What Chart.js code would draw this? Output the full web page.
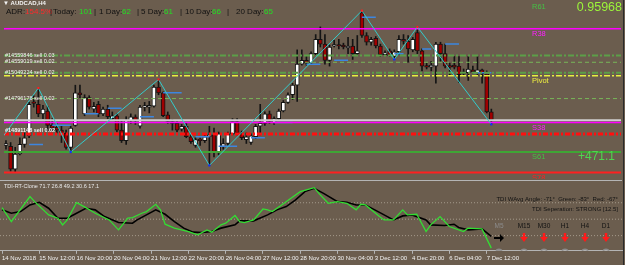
<!DOCTYPE html>
<html lang="en">
<head>
<meta charset="UTF-8">
<title>AUDCAD,H4</title>
<script src="https://cdn.jsdelivr.net/npm/chart.js"></script>
<style>
  body { margin: 0; background: #6b5d4e; width: 625px; height: 265px; overflow: hidden; position: relative; }
  canvas { position: absolute; left: 0; }
  #main { top: 0; }
  #sub { top: 179px; }
</style>
</head>
<body>
<canvas id="main" width="625" height="179"></canvas>
<canvas id="sub" width="625" height="86"></canvas>
<script>
// H4 candles, one entry per bar (bar 0 = 14 Nov 2018 00:00)
const openP = [
  0.9544,0.9542,0.9494,0.9526,0.9546,0.9564,0.9634,0.9630,0.9610,0.9616,
  0.9586,0.9582,0.9576,0.9570,0.9540,0.9586,0.9654,0.9610,0.9644,0.9620,
  0.9630,0.9610,0.9620,0.9600,0.9606,0.9576,0.9554,0.9596,0.9604,0.9584,
  0.9624,0.9624,0.9626,0.9666,0.9654,0.9608,0.9594,0.9590,0.9578,0.9584,
  0.9562,0.9544,0.9556,0.9554,0.9562,0.9566,0.9530,0.9542,0.9548,0.9568,
  0.9594,0.9570,0.9556,0.9550,0.9562,0.9584,0.9590,0.9610,0.9592,0.9600,
  0.9616,0.9634,0.9650,0.9670,0.9714,0.9722,0.9716,0.9736,0.9766,0.9756,
  0.9722,0.9752,0.9754,0.9754,0.9748,0.9752,0.9736,0.9822,0.9774,0.9760,
  0.9768,0.9752,0.9734,0.9742,0.9730,0.9740,0.9766,0.9762,0.9744,0.9780,
  0.9742,0.9710,0.9708,0.9710,0.9756,0.9736,0.9710,0.9712,0.9710,0.9694,
  0.9696,0.9702,0.9696,0.9702,0.9694,0.9614
];
const highP = [
  0.9554,0.9550,0.9540,0.9560,0.9570,0.9634,0.9648,0.9664,0.9628,0.9626,
  0.9600,0.9590,0.9584,0.9576,0.9584,0.9670,0.9670,0.9650,0.9648,0.9634,
  0.9636,0.9624,0.9628,0.9614,0.9610,0.9596,0.9604,0.9610,0.9608,0.9628,
  0.9634,0.9636,0.9670,0.9682,0.9656,0.9614,0.9598,0.9594,0.9588,0.9590,
  0.9566,0.9560,0.9560,0.9566,0.9584,0.9580,0.9572,0.9558,0.9572,0.9600,
  0.9600,0.9574,0.9570,0.9568,0.9588,0.9630,0.9614,0.9616,0.9604,0.9620,
  0.9638,0.9654,0.9674,0.9744,0.9744,0.9730,0.9740,0.9776,0.9792,0.9776,
  0.9754,0.9764,0.9766,0.9758,0.9770,0.9766,0.9774,0.9826,0.9780,0.9770,
  0.9772,0.9756,0.9742,0.9746,0.9744,0.9774,0.9776,0.9774,0.9770,0.9792,
  0.9746,0.9716,0.9720,0.9760,0.9760,0.9756,0.9716,0.9730,0.9730,0.9704,
  0.9730,0.9710,0.9730,0.9704,0.9700,0.9620
];
const lowP = [
  0.9536,0.9490,0.9488,0.9524,0.9540,0.9560,0.9624,0.9604,0.9600,0.9574,
  0.9574,0.9570,0.9550,0.9536,0.9530,0.9584,0.9644,0.9606,0.9620,0.9614,
  0.9604,0.9606,0.9600,0.9596,0.9572,0.9550,0.9546,0.9590,0.9588,0.9580,
  0.9616,0.9612,0.9624,0.9650,0.9604,0.9590,0.9576,0.9572,0.9574,0.9560,
  0.9548,0.9540,0.9544,0.9550,0.9502,0.9520,0.9524,0.9536,0.9544,0.9566,
  0.9566,0.9556,0.9548,0.9546,0.9558,0.9566,0.9586,0.9590,0.9588,0.9596,
  0.9614,0.9632,0.9640,0.9636,0.9712,0.9712,0.9714,0.9734,0.9750,0.9714,
  0.9710,0.9750,0.9746,0.9746,0.9736,0.9724,0.9734,0.9770,0.9754,0.9754,
  0.9748,0.9730,0.9732,0.9730,0.9724,0.9734,0.9756,0.9718,0.9740,0.9736,
  0.9700,0.9704,0.9700,0.9674,0.9720,0.9706,0.9690,0.9704,0.9676,0.9690,
  0.9680,0.9694,0.9690,0.9674,0.9612,0.9588
];
const closeP = [
  0.9548,0.9494,0.9526,0.9546,0.9560,0.9630,0.9632,0.9610,0.9620,0.9586,
  0.9580,0.9576,0.9570,0.9540,0.9580,0.9654,0.9650,0.9644,0.9624,0.9626,
  0.9610,0.9620,0.9604,0.9606,0.9576,0.9554,0.9596,0.9604,0.9596,0.9624,
  0.9626,0.9628,0.9666,0.9654,0.9606,0.9594,0.9590,0.9576,0.9584,0.9562,
  0.9552,0.9556,0.9554,0.9562,0.9566,0.9530,0.9568,0.9548,0.9568,0.9594,
  0.9570,0.9560,0.9562,0.9564,0.9584,0.9590,0.9610,0.9594,0.9600,0.9616,
  0.9634,0.9650,0.9670,0.9714,0.9722,0.9716,0.9736,0.9766,0.9756,0.9722,
  0.9750,0.9754,0.9752,0.9750,0.9752,0.9736,0.9742,0.9774,0.9760,0.9766,
  0.9752,0.9734,0.9738,0.9732,0.9740,0.9766,0.9762,0.9746,0.9766,0.9742,
  0.9710,0.9708,0.9712,0.9756,0.9736,0.9710,0.9708,0.9708,0.9692,0.9698,
  0.9704,0.9698,0.9702,0.9694,0.9614,0.9598
];

// zigzag pivots
const zzBar = [-4, 7, 14, 33, 44, 77, 84, 89, 105];
const zzPrice = [0.9518, 0.9664, 0.9530, 0.9682, 0.9502, 0.9826, 0.9724, 0.9792, 0.9588];

// short blue S/R segments: start bar, end bar, price
const segStart = [5, 10, 17, 22, 29, 34, 41, 46, 53, 58, 65, 71, 77, 84, 90, 95, 101];
const segEnd   = [8, 14, 20, 25, 32, 38, 44, 50, 56, 62, 68, 74, 80, 86, 92, 98, 105];
const segPrice = [0.9546, 0.9586, 0.9610, 0.9622, 0.9604, 0.9654, 0.9562, 0.9542, 0.9560,
                  0.9592, 0.9714, 0.9722, 0.9812, 0.9736, 0.9746, 0.9756, 0.9696];

// pivot levels
const levelNames = ['R61', 'R38', 'Pivot', 'S38', 'S61', 'S78'];
const levelPrices = [0.9844, 0.9788, 0.9690, 0.9592, 0.9530, 0.9487];

// open orders
const orderLabels = ['#14559846 sell 0.03', '#14559019 sell 0.02', '#15049224 sell 0.02',
                     '#14796176 sell 0.02', '#14891148 sell 0.02'];
const orderPrices = [0.9732, 0.9718, 0.9696, 0.9642, 0.9568];

const bidPrice = 0.95968;
const pipsTotal = '+471.1';

const adrNames = ['ADR:', 'Today:', '1 Day:', '5 Day:', '10 Day:', '20 Day:'];
const adrValues = ['154.5%', '101', '62', '61', '66', '65'];

// TDI sub window
const tdiGreenBar = [0,2,6,7,10,12,13,14,16,18,20,23,25,27,28,30,31,33,34,35,37,40,42,44,45,47,48,50,51,52,
                     54,56,57,58,60,62,64,67,68,70,72,74,76,77,78,81,82,84,86,87,89,91,92,94,96,99,100,103,105];
const tdiGreen = [62.7,47.4,74.7,69.2,54.7,51.1,43.8,49.2,68.2,62.7,56.5,49.2,38.3,51.1,51.8,56.5,58.3,66.3,60.2,44.5,
                  40.2,36.5,32.9,38.3,35.8,43.8,45.6,54.0,47.4,46.3,49.2,61.2,60.2,58.3,65.6,72.9,80.2,84.5,78.3,67.4,
                  69.2,67.4,60.2,66.3,65.6,52.9,49.2,49.2,60.2,54.7,55.4,36.5,43.8,52.9,42.0,36.5,40.2,39.4,18.3];
const tdiBlackBar = [0,2,4,6,8,10,12,14,16,18,20,22,25,28,29,31,33,35,37,39,41,43,45,47,50,51,54,57,59,61,
                     63,65,67,69,72,74,76,78,80,82,84,86,88,91,92,95,97,98,100,103,105];
const tdiBlack = [60.2,56.5,58.3,65.6,68.5,62.0,51.1,51.1,56.5,62.0,60.2,52.9,46.3,45.6,49.2,54.7,60.2,55.4,47.4,40.2,
                  35.8,35.4,36.5,40.2,43.8,48.2,48.2,54.7,60.2,63.8,71.1,80.2,83.8,78.3,69.2,68.5,65.6,65.6,60.2,54.7,
                  49.2,53.6,54.7,49.2,43.8,43.1,44.5,40.9,38.3,39.4,31.1];
const tdiLevels = [68, 50, 32];
const tdiHeader = 'TDI-RT-Clone 71.7 26.8 49.2 30.6 17.1';
const tdiAngle = 'TDI WAvg Angle: -71°  Green: -83°  Red: -67°';
const tdiSep = 'TDI Seperation: STRONG [12.5]';
const frames = ['M5', 'M15', 'M30', 'H1', 'H4', 'D1'];

const tickBars = [0, 8, 16, 24, 32, 40, 48, 56, 64, 72, 80, 88, 96, 104];
const dateLabels = ['14 Nov 2018', '15 Nov 12:00', '16 Nov 20:00', '20 Nov 04:00', '21 Nov 12:00',
  '22 Nov 20:00', '26 Nov 04:00', '27 Nov 12:00', '28 Nov 20:00', '30 Nov 04:00', '3 Dec 12:00',
  '4 Dec 20:00', '6 Dec 04:00', '7 Dec 12:00'];

// ---- styles ----
const FONT = '"Liberation Sans", Arial, sans-serif';
Chart.defaults.font.family = FONT;
const xMin = -0.43, xMax = 133.05;
const levelStyle = {
  R61:   { color: '#3fa535', width: 2, dash: [], text: '#45c045' },
  R38:   { color: '#ff00ff', width: 1.5, dash: [], text: '#ff20ff' },
  Pivot: { color: '#e8f040', width: 1.5, dash: [6, 2, 2, 2], text: '#f0f040' },
  S38:   { color: '#ff00ff', width: 1.5, dash: [], text: '#ff20ff' },
  S61:   { color: '#3fa535', width: 2, dash: [], text: '#45c045' },
  S78:   { color: '#ff2020', width: 2, dash: [], text: '#ff2020' }
};
const orderStyle = [
  { color: '#5c9f48', width: 2, dash: [6, 2, 2, 2] },
  { color: '#77b658', width: 1, dash: [4, 3] },
  { color: '#5c9f48', width: 2, dash: [6, 2, 2, 2] },
  { color: '#77b658', width: 1, dash: [4, 3] },
  { color: '#ff1010', width: 3, dash: [5, 2, 2, 2] }
];
const hLine = p => [{ x: xMin, y: p }, { x: xMax, y: p }];
const bars = openP.map((v, i) => i);

const lineSets = [];
levelNames.forEach((n, k) => {
  const s = levelStyle[n];
  lineSets.push({ type: 'line', data: hLine(levelPrices[k]), borderColor: s.color, borderWidth: s.width,
    borderDash: s.dash, pointRadius: 0, order: 1 });
});
orderPrices.forEach((p, k) => {
  const s = orderStyle[k];
  lineSets.push({ type: 'line', data: hLine(p), borderColor: s.color, borderWidth: s.width,
    borderDash: s.dash, pointRadius: 0, order: 1 });
});
lineSets.push({ type: 'line', data: hLine(bidPrice), borderColor: '#cfcfcf', borderWidth: 2, pointRadius: 0, order: 1 });

const segData = [];
segStart.forEach((a, k) => {
  segData.push({ x: a, y: segPrice[k] }, { x: segEnd[k], y: segPrice[k] }, { x: segEnd[k], y: null });
});

const mainText = {
  id: 'mainText',
  afterDraw(chart) {
    const { ctx, scales: { y } } = chart;
    ctx.save();
    ctx.textBaseline = 'middle';
    ctx.textAlign = 'left';
    // pivot level names
    ctx.font = '7.5px ' + FONT;
    levelNames.forEach((n, k) => {
      ctx.fillStyle = levelStyle[n].text;
      ctx.fillText(n, 532, y.getPixelForValue(levelPrices[k]) + 5);
    });
    ctx.font = '12px ' + FONT;
    ctx.fillStyle = '#4fd64f';
    ctx.fillText(pipsTotal, 578, y.getPixelForValue(levelPrices[4]) + 5);
    // order labels
    ctx.textBaseline = 'alphabetic';
    orderLabels.forEach((t, k) => {
      ctx.font = (k === 4 ? 'bold ' : '') + '5.5px ' + FONT;
      ctx.fillStyle = '#f2f2f2';
      ctx.fillText(t, 5, y.getPixelForValue(orderPrices[k]) + (k === 4 ? -2 : 1));
    });
    // header
    ctx.textBaseline = 'middle';
    ctx.font = 'bold 6px ' + FONT;
    ctx.fillStyle = '#f4f4f4';
    ctx.fillText('▼ AUDCAD,H4', 3, 3);
    ctx.font = '8px ' + FONT;
    const nameX = [6, 53, 99, 141, 185, 236];
    const valX = [25, 79, 122, 164, 212, 264];
    const barX = [50, 94, 137, 180, 227];
    adrNames.forEach((n, k) => {
      ctx.fillStyle = '#111';
      ctx.fillText(n, nameX[k], 12);
      ctx.fillStyle = k === 0 ? '#ff2a2a' : '#22e022';
      ctx.fillText(adrValues[k], valX[k], 12);
    });
    ctx.fillStyle = '#111';
    barX.forEach(x => ctx.fillText('|', x, 12));
    // bid price
    ctx.textAlign = 'right';
    ctx.font = '12.5px ' + FONT;
    ctx.fillStyle = '#9cf53a';
    ctx.fillText(bidPrice.toFixed(5), 622, 8);
    // right frame
    ctx.fillStyle = '#2a2a2a';
    ctx.fillRect(623, 0, 1, chart.height);
    ctx.restore();
  }
};

new Chart(document.getElementById('main'), {
  type: 'bar',
  data: {
    datasets: [
      { type: 'line', data: zzBar.map((b, k) => ({ x: b, y: zzPrice[k] })), borderColor: '#33cccc', borderWidth: 1,
        pointRadius: 1.5, pointStyle: 'rect', borderJoinStyle: 'miter',
        pointBackgroundColor: zzPrice.map((p, k) => (k > 0 && p > zzPrice[k - 1]) ? '#ff2020' : '#1030ff'),
        pointBorderWidth: 0, order: 0 },
      ...lineSets,
      { type: 'line', data: segData, borderColor: '#3d86e0', borderWidth: 1.5, pointRadius: 0, spanGaps: false, order: 1 },
      { type: 'bar', data: bars.map(i => ({ x: i, y: [openP[i], closeP[i]] })),
        backgroundColor: bars.map(i => closeP[i] < openP[i] ? '#a00000' : '#ffffff'),
        borderColor: '#141414', borderWidth: 1, borderSkipped: false, barThickness: 4, minBarLength: 1.5,
        grouped: false, order: 2 },
      { type: 'bar', data: bars.map(i => ({ x: i, y: [lowP[i], highP[i]] })),
        backgroundColor: '#141414', barThickness: 1, grouped: false, order: 3 }
    ]
  },
  options: {
    responsive: false,
    animation: false,
    events: [],
    layout: { padding: { left: 0, right: 3, top: 0, bottom: 0 } },
    plugins: { legend: { display: false }, tooltip: { enabled: false } },
    scales: {
      x: { type: 'linear', min: xMin, max: xMax, offset: false, grid: { offset: false }, display: false },
      y: { min: 0.9482, max: 0.9840, display: false }
    }
  },
  plugins: [mainText]
});

const subText = {
  id: 'subText',
  afterDraw(chart) {
    const { ctx, chartArea } = chart;
    ctx.save();
    // window separator
    ctx.fillStyle = '#b4b4b4';
    ctx.fillRect(0, chartArea.top - 1, chartArea.right, 1);
    ctx.textBaseline = 'middle';
    ctx.textAlign = 'left';
    ctx.font = '5.5px ' + FONT;
    ctx.fillStyle = '#e8e8e8';
    ctx.fillText(tdiHeader, 4, 7);
    ctx.textAlign = 'right';
    ctx.font = '6px ' + FONT;
    ctx.fillStyle = '#121212';
    ctx.fillText(tdiAngle, 618, 20);
    ctx.fillText(tdiSep, 618, 30);
    // timeframe arrows
    const fx = [499, 524, 544, 565, 585, 606];
    ctx.textAlign = 'center';
    ctx.font = '6.5px ' + FONT;
    frames.forEach((f, k) => {
      const x = fx[k];
      ctx.fillStyle = k === 0 ? '#8c8c8c' : '#121212';
      ctx.fillText(f, x, 47);
      if (k === 0) {
        ctx.fillStyle = '#000';
        ctx.fillRect(x - 5, 58, 7, 2);
        ctx.beginPath();
        ctx.moveTo(x + 1, 55); ctx.lineTo(x + 5, 59); ctx.lineTo(x + 1, 63); ctx.closePath();
        ctx.fill();
      } else {
        ctx.fillStyle = '#ff1a1a';
        ctx.fillRect(x - 1.2, 54, 2.4, 4);
        ctx.beginPath();
        ctx.moveTo(x - 3.8, 58); ctx.lineTo(x + 3.8, 58); ctx.lineTo(x, 63); ctx.closePath();
        ctx.fill();
      }
      ctx.save();
      ctx.beginPath();
      ctx.rect(chartArea.left, chartArea.top, chartArea.right - chartArea.left, chartArea.bottom - chartArea.top);
      ctx.clip();
      ctx.beginPath();
      ctx.arc(x, chartArea.bottom + 1.5, 3, 0, Math.PI * 2);
      ctx.strokeStyle = '#8a8a8a';
      ctx.lineWidth = 1.5;
      ctx.stroke();
      if (k === 0) { ctx.fillStyle = '#8a8a8a'; ctx.fill(); }
      ctx.restore();
    });
    ctx.fillStyle = '#2a2a2a';
    ctx.fillRect(623, 0, 1, chart.height);
    ctx.restore();
  }
};

new Chart(document.getElementById('sub'), {
  type: 'line',
  data: {
    datasets: [
      { data: tdiGreenBar.map((b, k) => ({ x: b, y: tdiGreen[k] })), borderColor: '#33dd33', borderWidth: 1.3, pointRadius: 0, order: 0 },
      { data: tdiBlackBar.map((b, k) => ({ x: b, y: tdiBlack[k] })), borderColor: '#000000', borderWidth: 1.6, pointRadius: 0, order: 1 },
      ...tdiLevels.map(v => ({ data: [{ x: xMin, y: v }, { x: xMax, y: v }], borderColor: 'rgba(190,180,165,0.7)',
        borderWidth: 1, borderDash: [1, 2], pointRadius: 0, order: 2 }))
    ]
  },
  options: {
    responsive: false,
    animation: false,
    events: [],
    layout: { padding: { left: 0, right: 3, top: 2, bottom: 2 } },
    plugins: { legend: { display: false }, tooltip: { enabled: false } },
    scales: {
      x: {
        type: 'linear', min: xMin, max: xMax,
        afterBuildTicks: axis => { axis.ticks = tickBars.map(v => ({ value: v })); },
        ticks: { callback: (v, i) => dateLabels[i], align: 'start', autoSkip: false, maxRotation: 0,
                 color: '#f2f2f2', font: { size: 6 }, padding: 1 },
        grid: { drawOnChartArea: false, drawTicks: true, tickLength: 3, color: '#b4b4b4' },
        border: { display: true, color: '#b4b4b4', width: 1 }
      },
      y: { min: 15.4, max: 91.8, display: false }
    }
  },
  plugins: [subText]
});
</script>
</body>
</html>
